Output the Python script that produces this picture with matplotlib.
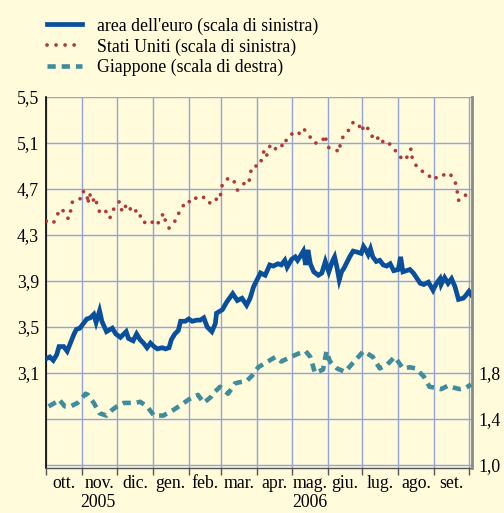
import numpy as np
import pandas as pd
import matplotlib
matplotlib.use("Agg")
import matplotlib.pyplot as plt
import matplotlib.transforms as mtransforms

# days counted from 1 Oct 2005
us_days = [0, 3, 6, 9, 13, 17, 19, 21, 22, 24, 29, 31, 35, 36, 37, 39, 40, 42, 44, 46,
           49, 52, 55, 57, 61, 63, 64, 67, 69, 72, 74, 79, 81, 83, 86, 90, 94, 98, 101, 103,
           106, 109, 113, 115, 118, 121, 126, 129, 131, 135, 139, 142, 145, 149, 151, 152, 155, 159, 162, 165,
           168, 171, 174, 175, 176, 178, 184, 186, 188, 190, 192, 194, 198, 201, 203, 205, 207, 209, 211, 215,
           218, 222, 224, 226, 228, 231, 234, 238, 241, 242, 244, 249, 253, 254, 257, 262, 265, 268, 270, 272,
           275, 277, 280, 284, 288, 289, 292, 296, 299, 305, 307, 312, 315, 316, 319, 323, 329, 333, 337, 341,
           344, 348, 351, 354, 355, 356, 359, 364, 367]
us_vals = [4.42, 4.41, 4.40, 4.47, 4.53, 4.48, 4.44, 4.51, 4.58, 4.60, 4.61, 4.68, 4.67, 4.57, 4.66, 4.63, 4.59, 4.63, 4.56, 4.50,
           4.48, 4.51, 4.45, 4.51, 4.56, 4.59, 4.53, 4.50, 4.57, 4.54, 4.49, 4.52, 4.47, 4.41, 4.41, 4.43, 4.38, 4.42, 4.49, 4.42,
           4.36, 4.40, 4.44, 4.51, 4.55, 4.60, 4.58, 4.62, 4.63, 4.64, 4.58, 4.58, 4.62, 4.60, 4.67, 4.74, 4.78, 4.80, 4.77, 4.69,
           4.72, 4.75, 4.74, 4.75, 4.83, 4.90, 4.90, 4.96, 5.03, 4.98, 5.05, 5.09, 5.05, 5.07, 5.06, 5.13, 5.12, 5.16, 5.17, 5.20,
           5.18, 5.23, 5.20, 5.18, 5.15, 5.10, 5.10, 5.11, 5.17, 5.10, 5.06, 5.05, 5.02, 5.10, 5.17, 5.22, 5.28, 5.28, 5.26, 5.20,
           5.26, 5.24, 5.18, 5.12, 5.16, 5.14, 5.09, 5.10, 5.05, 5.01, 4.95, 4.98, 5.05, 4.97, 4.91, 4.86, 4.84, 4.78, 4.80, 4.83,
           4.82, 4.84, 4.80, 4.74, 4.67, 4.60, 4.64, 4.65, 4.61]

eu_days = [1, 3, 6, 9, 11, 15, 18, 20, 24, 26, 29, 32, 35, 38, 41, 43, 46, 48, 52, 57,
           60, 64, 66, 69, 71, 75, 78, 81, 84, 87, 90, 93, 96, 100, 103, 106, 108, 111, 114, 116,
           120, 123, 126, 130, 133, 136, 139, 143, 146, 147, 152, 156, 161, 165, 169, 173, 176, 179, 182, 185,
           189, 193, 196, 200, 203, 206, 208, 212, 215, 217, 219, 222, 224, 226, 228, 231, 235, 238, 241, 244,
           247, 249, 251, 253, 255, 257, 259, 262, 265, 269, 272, 274, 276, 278, 280, 282, 285, 288, 291, 294,
           297, 300, 304, 306, 308, 314, 317, 323, 326, 330, 334, 337, 340, 341, 344, 347, 350, 353, 356, 360,
           362, 365, 367]
eu_vals = [3.23, 3.24, 3.21, 3.26, 3.33, 3.33, 3.29, 3.34, 3.44, 3.48, 3.49, 3.53, 3.57, 3.58, 3.61, 3.54, 3.64, 3.55, 3.46, 3.49,
           3.44, 3.41, 3.43, 3.46, 3.40, 3.38, 3.44, 3.39, 3.36, 3.32, 3.36, 3.33, 3.31, 3.32, 3.31, 3.32, 3.39, 3.44, 3.47, 3.55,
           3.55, 3.57, 3.55, 3.56, 3.56, 3.58, 3.50, 3.46, 3.53, 3.62, 3.65, 3.72, 3.79, 3.73, 3.75, 3.69, 3.75, 3.85, 3.91, 3.97,
           3.95, 4.04, 4.03, 4.05, 4.04, 4.08, 4.02, 4.09, 4.11, 4.08, 4.11, 4.16, 4.04, 4.17, 4.05, 3.98, 3.95, 3.97, 4.07, 3.98,
           4.07, 4.11, 4.02, 3.91, 3.98, 4.01, 4.05, 4.11, 4.16, 4.15, 4.14, 4.20, 4.17, 4.13, 4.18, 4.11, 4.07, 4.08, 4.04, 4.03,
           4.05, 3.99, 4.00, 4.11, 3.98, 4.00, 3.97, 3.88, 3.87, 3.89, 3.82, 3.88, 3.92, 3.87, 3.93, 3.88, 3.92, 3.85, 3.74, 3.75,
           3.77, 3.81, 3.78]

jp_days = [2, 9, 11, 16, 21, 27, 34, 36, 41, 46, 52, 57, 61, 67, 72, 77, 81, 87, 93, 101,
           110, 116, 123, 127, 131, 136, 142, 144, 150, 157, 163, 167, 173, 178, 183, 193, 198, 203, 209, 218,
           224, 228, 229, 232, 239, 242, 245, 251, 258, 265, 274, 282, 288, 294, 301, 308, 314, 319, 326, 331,
           337, 341, 347, 353, 357, 362, 367]
jp_vals = [1.51, 1.55, 1.57, 1.51, 1.51, 1.54, 1.62, 1.61, 1.54, 1.45, 1.43, 1.48, 1.51, 1.54, 1.54, 1.54, 1.55, 1.51, 1.43, 1.43,
           1.48, 1.52, 1.57, 1.59, 1.61, 1.54, 1.59, 1.62, 1.68, 1.62, 1.71, 1.72, 1.73, 1.78, 1.85, 1.91, 1.94, 1.90, 1.93, 1.97,
           1.99, 1.94, 1.91, 1.80, 1.83, 1.99, 1.90, 1.84, 1.81, 1.89, 1.99, 1.94, 1.84, 1.87, 1.94, 1.84, 1.85, 1.84, 1.77, 1.68,
           1.67, 1.66, 1.69, 1.67, 1.66, 1.67, 1.70]

months = ["ott.", "nov.", "dic.", "gen.", "feb.", "mar.", "apr.", "mag.", "giu.", "lug.", "ago.", "set."]
left_ticks = [2.3, 2.7, 3.1, 3.5, 3.9, 4.3, 4.7, 5.1, 5.5]
right_ticks = [1.0, 1.4, 1.8]
labels = ["area dell'euro (scala di sinistra)", "Stati Uniti (scala di sinistra)",
          "Giappone (scala di destra)"]

start = pd.Timestamp("2005-10-01")
def to_dates(days):
    return start + pd.to_timedelta(np.array(days), unit="D")

bg = "#fffbdb"
gridc = "#93a3dc"
plt.rcParams["font.family"] = ["Liberation Serif", "DejaVu Serif"]
plt.rcParams["font.size"] = 12.8

fig = plt.figure(figsize=(5.04, 5.13), dpi=100, facecolor=bg)
ax = fig.add_axes([0.0913, 0.0877, 0.845, 0.7232], facecolor=bg)
ax2 = ax.twinx()

l1, = ax.plot(to_dates(eu_days), eu_vals, color="#0a4f9c", lw=3.4, solid_joinstyle="miter", zorder=3)
l2, = ax.plot(to_dates(us_days), us_vals, color="#b03a3a", lw=2.7, linestyle=(0, (0.01, 2.4)),
              dash_capstyle="round", zorder=3)
l3, = ax2.plot(to_dates(jp_days), jp_vals, color="#3f8c9c", lw=3.3, linestyle=(0, (1.8, 1.3)), zorder=3)

x0 = start - pd.Timedelta(hours=6)
x1 = pd.Timestamp("2006-10-03 14:00")
ax.set_xlim(x0, x1)
ax.set_ylim(2.274, 5.5)
ax2.set_ylim(0.974, 4.2)

month_starts = pd.date_range("2005-10-01", "2006-10-01", freq="MS")
ax.set_xticks(month_starts)
ax.set_xticklabels([])
mids = month_starts[:-1] + (month_starts[1:] - month_starts[:-1]) / 2
ax.set_xticks(mids, minor=True)
ax.set_xticklabels(months, minor=True)
ax.tick_params(axis="x", which="major", direction="out", length=5, width=1, color="#555555")
ax.tick_params(axis="x", which="minor", length=0, pad=5)

ax.set_yticks(left_ticks)
ax.set_yticklabels(["" if v < 3 else f"{v:.1f}".replace(".", ",") for v in left_ticks])
ax.tick_params(axis="y", length=0, pad=5)
ax2.set_yticks(right_ticks)
ax2.set_yticklabels([f"{v:.1f}".replace(".", ",") for v in right_ticks])
ax2.tick_params(axis="y", length=0, pad=5)

ax.grid(True, which="major", color=gridc, lw=1.0)
ax.set_axisbelow(True)

for s in ["top", "right"]:
    ax.spines[s].set_visible(False)
ax.spines["left"].set_color("black")
ax.spines["left"].set_linewidth(1.2)
ax.spines["bottom"].set_color("#555555")
ax.spines["bottom"].set_linewidth(1.0)
for s in ["top", "left", "bottom"]:
    ax2.spines[s].set_visible(False)
ax2.spines["right"].set_color("#8a8a8a")
ax2.spines["right"].set_linewidth(2.0)

trans = mtransforms.blended_transform_factory(ax.transData, ax.transAxes)
ax.text(pd.Timestamp("2005-11-15"), -0.094, "2005", transform=trans, ha="center", va="center")
ax.text(pd.Timestamp("2006-05-17"), -0.094, "2006", transform=trans, ha="center", va="center")

fig.legend([l1, l2, l3], labels, loc="upper left", bbox_to_anchor=(0.093, 0.966),
           frameon=False, borderpad=0, borderaxespad=0, handlelength=2.0,
           handletextpad=0.8, labelspacing=0.2)

fig.savefig("out.png", dpi=100, facecolor=bg)
